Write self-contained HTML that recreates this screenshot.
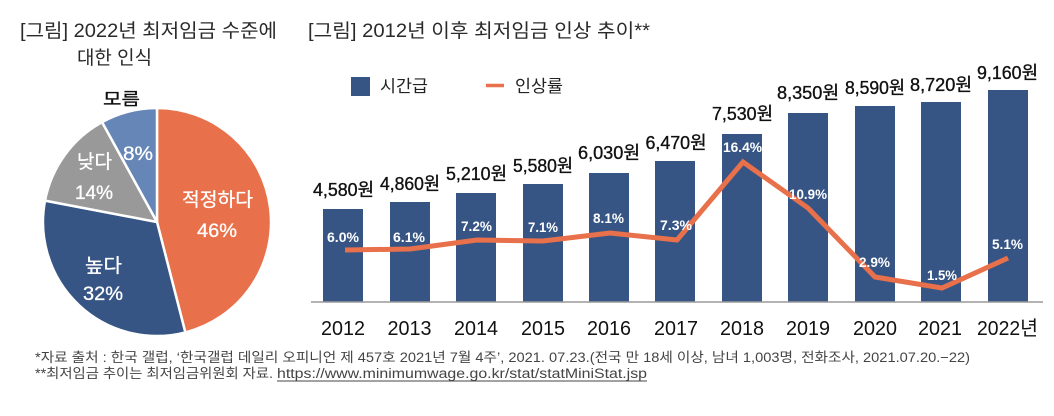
<!DOCTYPE html>
<html><head><meta charset="utf-8"><style>
html,body{margin:0;padding:0;background:#fff;}
svg{display:block;}
text{font-family:"Liberation Sans","Noto Sans CJK KR",sans-serif;}
</style></head><body>
<svg width="1054" height="416" viewBox="0 0 1054 416" xmlns="http://www.w3.org/2000/svg">
<rect width="1054" height="416" fill="#fff"/>
<!-- Titles -->
<text x="20" y="37" font-size="19" fill="#2a2a2a" textLength="257" lengthAdjust="spacingAndGlyphs">[그림] 2022년 최저임금 수준에</text>
<text x="77" y="64" font-size="19" fill="#2a2a2a" textLength="75" lengthAdjust="spacingAndGlyphs">대한 인식</text>
<text x="308" y="37" font-size="19" fill="#2a2a2a" textLength="342" lengthAdjust="spacingAndGlyphs">[그림] 2012년 이후 최저임금 인상 추이**</text>

<!-- Pie -->
<g stroke="#fff" stroke-width="2.5" stroke-linejoin="round">
<path d="M157,222 L157,108 A114,114 0 0 1 185.35,332.42 Z" fill="#E8704A"/>
<path d="M157,222 L185.35,332.42 A114,114 0 0 1 45.02,200.64 Z" fill="#375584"/>
<path d="M157,222 L45.02,200.64 A114,114 0 0 1 102.08,122.10 Z" fill="#999999"/>
<path d="M157,222 L102.08,122.10 A114,114 0 0 1 157,108 Z" fill="#6586B6"/>
</g>
<text x="103" y="105" font-size="17" fill="#111" stroke="#111" stroke-width="0.3" textLength="37" lengthAdjust="spacingAndGlyphs">모름</text>
<g fill="#fff" stroke="#fff" stroke-width="0.3" font-size="19">
<text x="123" y="160" textLength="30" lengthAdjust="spacingAndGlyphs">8%</text>
<text x="77" y="168" textLength="35" lengthAdjust="spacingAndGlyphs">낮다</text>
<text x="75" y="199" textLength="38" lengthAdjust="spacingAndGlyphs">14%</text>
<text x="182" y="206" textLength="71" lengthAdjust="spacingAndGlyphs">적정하다</text>
<text x="197" y="237" textLength="40" lengthAdjust="spacingAndGlyphs">46%</text>
<text x="85" y="272" textLength="37" lengthAdjust="spacingAndGlyphs">높다</text>
<text x="83" y="300" textLength="40" lengthAdjust="spacingAndGlyphs">32%</text>
</g>

<!-- Legend -->
<rect x="351" y="77" width="19" height="19" fill="#375584"/>
<text x="380" y="92" font-size="17" fill="#222" textLength="48" lengthAdjust="spacingAndGlyphs">시간급</text>
<line x1="486" y1="85.5" x2="504" y2="85.5" stroke="#E8704A" stroke-width="3.5"/>
<text x="515" y="92" font-size="17" fill="#222" textLength="48" lengthAdjust="spacingAndGlyphs">인상률</text>

<!-- Bars -->
<g fill="#375584">
<rect x="323" y="209" width="40" height="93"/>
<rect x="390" y="202" width="40" height="100"/>
<rect x="456" y="193" width="40" height="109"/>
<rect x="523" y="184" width="40" height="118"/>
<rect x="589" y="173" width="40" height="129"/>
<rect x="655" y="161" width="40" height="141"/>
<rect x="722" y="134" width="40" height="168"/>
<rect x="788" y="113" width="40" height="189"/>
<rect x="855" y="106" width="40" height="196"/>
<rect x="921" y="102" width="40" height="200"/>
<rect x="988" y="90" width="40" height="212"/>
</g>
<line x1="311" y1="302" x2="1043" y2="302" stroke="#9a9a9a" stroke-width="1.5"/>

<!-- Value labels -->
<g font-size="18" fill="#111" stroke="#111" stroke-width="0.35" text-anchor="middle">
<text x="343.5" y="196" textLength="61" lengthAdjust="spacingAndGlyphs">4,580원</text>
<text x="410" y="190" textLength="60" lengthAdjust="spacingAndGlyphs">4,860원</text>
<text x="476.5" y="180" textLength="61" lengthAdjust="spacingAndGlyphs">5,210원</text>
<text x="543" y="172" textLength="60" lengthAdjust="spacingAndGlyphs">5,580원</text>
<text x="609" y="159" textLength="62" lengthAdjust="spacingAndGlyphs">6,030원</text>
<text x="676" y="149" textLength="61" lengthAdjust="spacingAndGlyphs">6,470원</text>
<text x="742.5" y="120" textLength="61" lengthAdjust="spacingAndGlyphs">7,530원</text>
<text x="808" y="99" textLength="62" lengthAdjust="spacingAndGlyphs">8,350원</text>
<text x="875" y="94" textLength="60" lengthAdjust="spacingAndGlyphs">8,590원</text>
<text x="941" y="91" textLength="62" lengthAdjust="spacingAndGlyphs">8,720원</text>
<text x="1007.5" y="79" textLength="61" lengthAdjust="spacingAndGlyphs">9,160원</text>
</g>

<!-- Line -->
<polyline points="345,250 410,249 477,240 543,241 610,233 677,240 743,162 808,208 875,277 942,288 1008,258" fill="none" stroke="#E8704A" stroke-width="5" stroke-linejoin="miter"/>

<!-- Percent labels -->
<g font-size="14" font-weight="bold" fill="#fff" text-anchor="middle">
<text x="343" y="242" textLength="32" lengthAdjust="spacingAndGlyphs">6.0%</text>
<text x="409" y="242" textLength="32" lengthAdjust="spacingAndGlyphs">6.1%</text>
<text x="476.5" y="231" textLength="31" lengthAdjust="spacingAndGlyphs">7.2%</text>
<text x="543" y="232" textLength="30" lengthAdjust="spacingAndGlyphs">7.1%</text>
<text x="608.5" y="223" textLength="31" lengthAdjust="spacingAndGlyphs">8.1%</text>
<text x="676" y="230" textLength="32" lengthAdjust="spacingAndGlyphs">7.3%</text>
<text x="742.5" y="152" textLength="39" lengthAdjust="spacingAndGlyphs">16.4%</text>
<text x="808" y="199" textLength="38" lengthAdjust="spacingAndGlyphs">10.9%</text>
<text x="874.5" y="267" textLength="31" lengthAdjust="spacingAndGlyphs">2.9%</text>
<text x="942" y="280" textLength="30" lengthAdjust="spacingAndGlyphs">1.5%</text>
<text x="1007.5" y="249" textLength="31" lengthAdjust="spacingAndGlyphs">5.1%</text>
</g>

<!-- Year labels -->
<g font-size="20" fill="#111" text-anchor="middle">
<text x="343" y="335" textLength="44" lengthAdjust="spacingAndGlyphs">2012</text>
<text x="409.5" y="335" textLength="44" lengthAdjust="spacingAndGlyphs">2013</text>
<text x="476" y="335" textLength="44" lengthAdjust="spacingAndGlyphs">2014</text>
<text x="543" y="335" textLength="44" lengthAdjust="spacingAndGlyphs">2015</text>
<text x="609" y="335" textLength="44" lengthAdjust="spacingAndGlyphs">2016</text>
<text x="676" y="335" textLength="44" lengthAdjust="spacingAndGlyphs">2017</text>
<text x="742" y="335" textLength="44" lengthAdjust="spacingAndGlyphs">2018</text>
<text x="808" y="335" textLength="44" lengthAdjust="spacingAndGlyphs">2019</text>
<text x="875" y="335" textLength="44" lengthAdjust="spacingAndGlyphs">2020</text>
<text x="940" y="335" textLength="44" lengthAdjust="spacingAndGlyphs">2021</text>
<text x="1007.5" y="335" textLength="61" lengthAdjust="spacingAndGlyphs">2022년</text>
</g>

<!-- Footnotes -->
<text x="35" y="362" font-size="13.5" fill="#444" textLength="935" lengthAdjust="spacingAndGlyphs">*자료 출처 : 한국 갤럽, ‘한국갤럽 데일리 오피니언 제 457호 2021년 7월 4주’, 2021. 07.23.(전국 만 18세 이상, 남녀 1,003명, 전화조사, 2021.07.20.−22)</text>
<text x="35" y="378" font-size="13.5" fill="#444" textLength="238" lengthAdjust="spacingAndGlyphs">**최저임금 추이는 최저임금위원회 자료.</text>
<text x="277" y="378" font-size="13.5" fill="#444" textLength="370" lengthAdjust="spacingAndGlyphs">https://www.minimumwage.go.kr/stat/statMiniStat.jsp</text>
<line x1="277" y1="381" x2="647" y2="381" stroke="#444" stroke-width="1"/>
</svg>
</body></html>
